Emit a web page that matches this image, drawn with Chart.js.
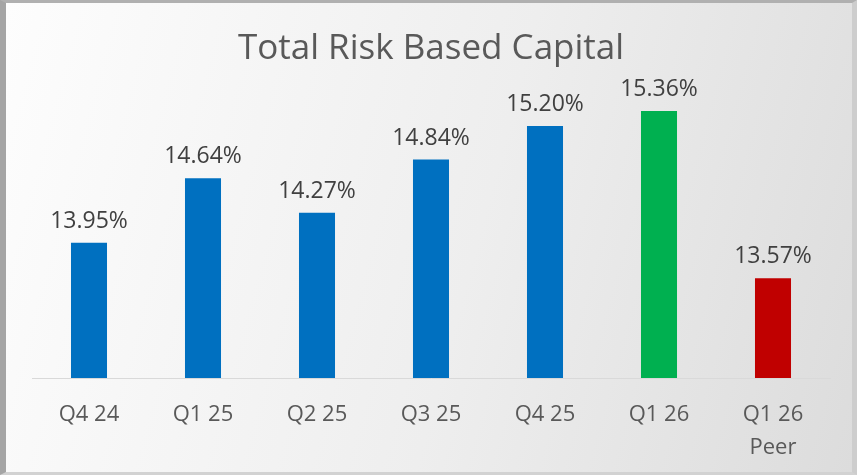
<!DOCTYPE html>
<html>
<head>
<meta charset="utf-8">
<script src="https://cdn.jsdelivr.net/npm/chart.js@4/dist/chart.umd.min.js"></script>
<style>
  html, body { margin: 0; padding: 0; }
  #frame {
    position: absolute; left: 0; top: 0;
    width: 857px; height: 475px; box-sizing: border-box;
    background: linear-gradient(105deg, #fdfdfd 0%, #eeeeee 55%, #dcdcdc 100%);
    border-left: 6px solid #a5a5a5;
    border-top: 3px solid #b0b0b0;
    border-right: 5px solid #cdcdcd;
    border-bottom: 3px solid #d2d2d2;
  }
  #chart { position: absolute; left: 0; top: 0; }
</style>
</head>
<body>
<div id="frame"></div>
<canvas id="chart" width="857" height="475"></canvas>
<script>
// ── data ────────────────────────────────────────────────────────────────────
const CATEGORIES = ['Q4 24', 'Q1 25', 'Q2 25', 'Q3 25', 'Q4 25', 'Q1 26', ['Q1 26', 'Peer']];
const RATIOS     = [13.95, 14.64, 14.27, 14.84, 15.20, 15.36, 13.57];
const BAR_COLORS = ['#0070c0', '#0070c0', '#0070c0', '#0070c0', '#0070c0', '#00b050', '#c00000'];

const FONT_FAMILY = "'Open Sans', 'Noto Sans', sans-serif";

// value labels above each bar
const barLabels = {
  id: 'barLabels',
  afterDatasetsDraw(chart) {
    const { ctx } = chart;
    const meta = chart.getDatasetMeta(0);
    ctx.save();
    ctx.fillStyle = '#404040';
    ctx.font = `23px ${FONT_FAMILY}`;
    ctx.textAlign = 'center';
    ctx.textBaseline = 'alphabetic';
    meta.data.forEach((bar, i) => {
      ctx.fillText(RATIOS[i].toFixed(2) + '%', bar.x, bar.y - 15);
    });
    ctx.restore();
  },
};

new Chart(document.getElementById('chart'), {
  type: 'bar',
  data: {
    labels: CATEGORIES,
    datasets: [{
      data: RATIOS,
      backgroundColor: BAR_COLORS,
      borderWidth: 0,
      categoryPercentage: 1,
      barPercentage: 0.316,
    }],
  },
  options: {
    responsive: false,
    animation: false,
    layout: { padding: { left: 32, right: 27, top: 0, bottom: 0 } },
    plugins: {
      legend: { display: false },
      tooltip: { enabled: false },
      title: {
        display: true,
        text: 'Total Risk Based Capital',
        color: '#595959',
        font: { family: FONT_FAMILY, size: 35, weight: 'normal', lineHeight: 1.2 },
        padding: { top: 28, bottom: 0 },
      },
    },
    scales: {
      x: {
        grid: { display: false },
        border: { display: true, color: '#d9d9d9', width: 1 },
        ticks: {
          color: '#595959',
          padding: 12,
          font: { family: FONT_FAMILY, size: 22, lineHeight: 1.5 },
        },
        afterFit: (scale) => { scale.height = 97; },
      },
      y: {
        display: false,
        min: 12.5,
        max: 15.80,
      },
    },
  },
  plugins: [barLabels],
});
</script>
</body>
</html>
